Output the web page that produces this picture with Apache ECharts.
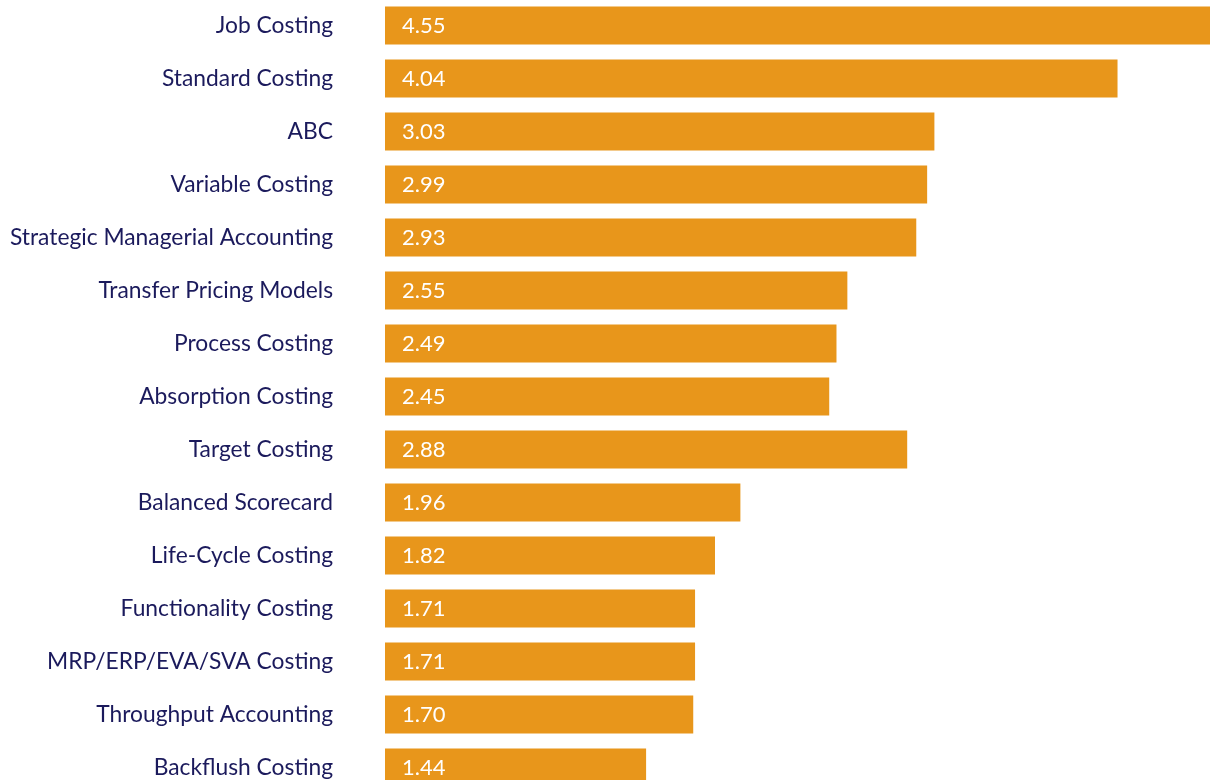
<!DOCTYPE html>
<html>
<head>
<meta charset="utf-8">
<script src="https://cdn.jsdelivr.net/npm/echarts@6/dist/echarts.min.js"></script>
<style>
html,body{margin:0;padding:0;background:#fff;overflow:hidden;}
#chart{width:1210px;height:796px;margin-top:-1px;}
</style>
</head>
<body>
<div id="chart"></div>
<script>
const categories = ["Job Costing","Standard Costing","ABC","Variable Costing","Strategic Managerial Accounting","Transfer Pricing Models","Process Costing","Absorption Costing","Target Costing","Balanced Scorecard","Life-Cycle Costing","Functionality Costing","MRP/ERP/EVA/SVA Costing","Throughput Accounting","Backflush Costing"];
const values = [4.55,4.04,3.03,2.99,2.93,2.55,2.49,2.45,2.88,1.96,1.82,1.71,1.71,1.70,1.44];

const chart = echarts.init(document.getElementById('chart'));
chart.setOption({
  animation: false,
  grid: {left: 385, right: 0, top: 0, height: 795, containLabel: false},
  xAxis: {type: 'value', min: 0, max: 4.55, show: false},
  yAxis: {
    type: 'category', data: categories, inverse: true,
    axisLine: {show: false}, axisTick: {show: false},
    axisLabel: {margin: 52, color: '#1B1A5C', fontSize: 22.8, fontFamily: 'Lato', padding: [6, 0, 0, 0]}
  },
  series: [{
    type: 'bar', data: values, barWidth: 38,
    itemStyle: {color: '#E8961B'},
    label: {show: true, position: 'insideLeft', distance: 17, color: '#fff', fontSize: 22, fontFamily: 'Lato',
      padding: [0, 0, 6, 0],
      formatter: p => p.value.toFixed(2)}
  }]
});
</script>
</body>
</html>
